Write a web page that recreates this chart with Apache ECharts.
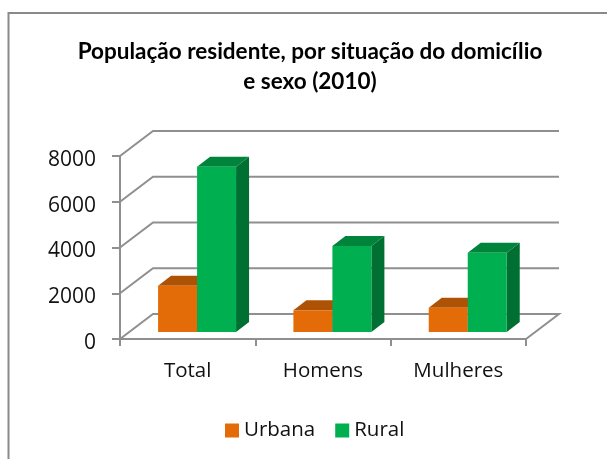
<!DOCTYPE html>
<html>
<head>
<meta charset="utf-8">
<style>html,body{margin:0;padding:0;background:#fff}#c{width:607px;height:459px}</style>
<script src="https://cdn.jsdelivr.net/npm/echarts@6/dist/echarts.min.js"></script>
</head>
<body>
<div id="c"></div>
<script>
const categories = ['Total', 'Homens', 'Mulheres'];
const urbana = [2024, 948, 1062];
const rural = [7226, 3760, 3467];
const yTicks = [0, 2000, 4000, 6000, 8000];

const wallDx = 33, wallDy = 25, depthDx = 13, depthDy = 10, barW = 39, lift = 7;
const gridColor = '#8f8f8f';

function shade(pts, color) {
  return { type: 'polygon', shape: { points: pts }, style: { fill: color } };
}
function barRenderer(front, top, side, dir) {
  return function (params, api) {
    const base = api.coord([api.value(0), 0]);
    const tip = api.coord([api.value(0), api.value(1)]);
    const cx = base[0] + 9.4;
    const x0 = dir < 0 ? cx - barW : cx;
    const x1 = x0 + barW;
    const yb = base[1] - lift;
    const yt = tip[1] - lift;
    return {
      type: 'group',
      children: [
        shade([[x1, yb], [x1 + depthDx, yb - depthDy], [x1 + depthDx, yt - depthDy], [x1, yt]], side),
        shade([[x0, yt], [x0 + depthDx, yt - depthDy], [x1 + depthDx, yt - depthDy], [x1, yt]], top),
        shade([[x0, yb], [x1, yb], [x1, yt], [x0, yt]], front)
      ]
    };
  };
}
function gridRenderer(params, api) {
  const cs = params.coordSys;
  const y = api.coord([0, api.value(1)])[1];
  const xl = cs.x, xr = cs.x + cs.width;
  const pts = [[xl, y], [xl + wallDx, y - wallDy], [xr + wallDx, y - wallDy]];
  if (api.value(1) === 0) pts.push([xr, y]);
  return {
    type: 'polyline',
    shape: { points: pts },
    style: { fill: 'none', stroke: gridColor, lineWidth: 2 }
  };
}

const chart = echarts.init(document.getElementById('c'), null, { renderer: 'canvas' });
chart.setOption({
  animation: false,
  backgroundColor: '#ffffff',
  title: {
    text: 'População residente, por situação do domicílio\ne sexo (2010)',
    left: 305, top: 32, textAlign: 'center',
    textStyle: { fontFamily: 'Lato', fontWeight: 'bold', fontSize: 22.5, lineHeight: 30, color: '#000' }
  },
  legend: {
    data: ['Urbana', 'Rural'],
    left: 220, top: 415,
    icon: 'rect', itemWidth: 14, itemHeight: 14, itemGap: 20,
    textStyle: { fontFamily: 'Open Sans', fontSize: 20.5, color: '#111' }
  },
  grid: { left: 120, top: 156, width: 406, height: 183, containLabel: false },
  xAxis: {
    type: 'category', data: categories,
    axisLine: { lineStyle: { color: gridColor, width: 2 } },
    axisTick: { show: true, alignWithLabel: false, length: 7, lineStyle: { color: gridColor, width: 2 } },
    axisLabel: { fontFamily: 'Open Sans', fontSize: 20.5, color: '#111', margin: 22 }
  },
  yAxis: {
    type: 'value', min: 0, max: 8000, interval: 2000,
    axisLine: { show: true, lineStyle: { color: gridColor, width: 2 } },
    axisTick: { show: true, length: 8, lineStyle: { color: gridColor, width: 2 } },
    axisLabel: { fontFamily: 'Open Sans', fontSize: 21, color: '#111', margin: 24, verticalAlign: 'top', lineHeight: 8, formatter: v => String(v) },
    splitLine: { show: false }
  },
  series: [
    {
      type: 'custom', name: 'grid', silent: true, clip: false, z: 1,
      renderItem: gridRenderer,
      encode: { x: 0, y: 1 },
      data: yTicks.map(t => [0, t])
    },
    {
      type: 'custom', name: 'Urbana', clip: false, z: 2,
      itemStyle: { color: '#E36C09' },
      renderItem: barRenderer('#E36C09', '#AE5305', '#8F4504', -1),
      encode: { x: 0, y: 1 },
      data: urbana.map((v, i) => [i, v])
    },
    {
      type: 'custom', name: 'Rural', clip: false, z: 3,
      itemStyle: { color: '#00B050' },
      renderItem: barRenderer('#00B050', '#00843C', '#006F32', 1),
      encode: { x: 0, y: 1 },
      data: rural.map((v, i) => [i, v])
    }
  ],
  graphic: [
    {
      type: 'polyline',
      shape: { points: [[8.5, 459], [8.5, 13], [607, 13]] },
      style: { fill: 'none', stroke: '#8a8a8a', lineWidth: 2 },
      silent: true
    }
  ]
});
</script>
</body>
</html>
